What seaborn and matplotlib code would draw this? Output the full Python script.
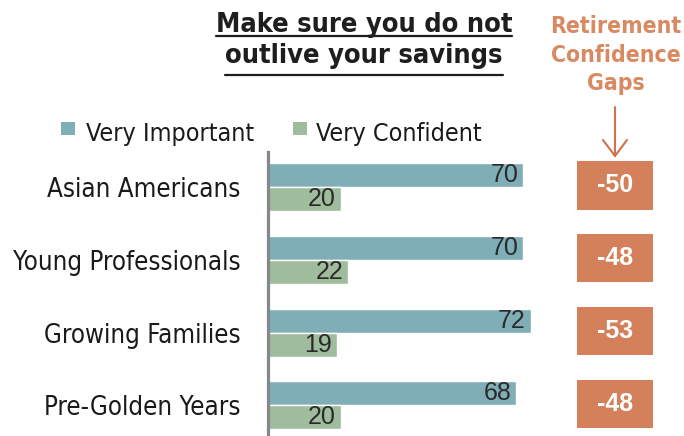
import matplotlib
matplotlib.use("Agg")
import matplotlib.pyplot as plt
from matplotlib.patches import Rectangle
from matplotlib.lines import Line2D
import seaborn as sns
import pandas as pd

# ---- data ----
segments = ["Asian Americans", "Young Professionals", "Growing Families", "Pre-Golden Years"]
very_important = [70, 70, 72, 68]
very_confident = [20, 22, 19, 20]
series_names = ["Very Important", "Very Confident"]
title_lines = ["Make sure you do not", "outlive your savings"]
gap_header = ["Retirement", "Confidence", "Gaps"]

gaps = [c - i for i, c in zip(very_important, very_confident)]

BLUE = "#80AEB6"
GREEN = "#9FBD9C"
ORANGE = "#D4805A"
ORANGE_TXT = "#D98A62"
COND = dict(family="DejaVu Sans", stretch="condensed")

sns.set_theme(style="white")
plt.rcParams["font.family"] = ["Liberation Sans", "DejaVu Sans"]

W, H = 684, 436
fig = plt.figure(figsize=(W / 100, H / 100), dpi=100)


def fx(px):
    return px / W


def fy(py):
    return 1 - py / H


# bar panel: left edge at x=268px, spans to the right edge; top at 152px
ax = fig.add_axes([fx(268), 0, fx(W - 268), (H - 152) / H])

df = pd.DataFrame({
    "segment": segments * 2,
    "series": [series_names[0]] * 4 + [series_names[1]] * 4,
    "value": very_important + very_confident,
})

sns.barplot(data=df, y="segment", x="value", hue="series", order=segments,
            hue_order=series_names, palette=[BLUE, GREEN], orient="h",
            width=0.66, edgecolor="white", linewidth=1.0, saturation=1,
            legend=False, ax=ax)

ax.set_xlim(0, 114)
ax.set_ylim(3.42, -0.48)
ax.set_xlabel("")
ax.set_ylabel("")
ax.set_xticks([])
ax.tick_params(axis="y", length=0, pad=20)
for lbl in ax.get_yticklabels():
    lbl.set_fontfamily("DejaVu Sans")
    lbl.set_fontstretch("condensed")
    lbl.set_fontsize(18.5)
    lbl.set_color("#1a1a1a")
for side in ["top", "right", "bottom"]:
    ax.spines[side].set_visible(False)
ax.spines["left"].set_color("#85878A")
ax.spines["left"].set_linewidth(2.3)

# value labels inside the bar ends
for bar in ax.patches:
    w = bar.get_width()
    yc = bar.get_y() + bar.get_height() / 2
    ax.annotate(f"{w:.0f}", xy=(w, yc), xytext=(-5, 0), textcoords="offset pixels",
                ha="right", va="center", fontsize=18, color="#2a2a2a")

# gap boxes
for k, g in enumerate(gaps):
    yc = k - 0.02
    ax.add_patch(Rectangle((84.7, yc - 0.33), 20.8, 0.66, facecolor=ORANGE,
                           edgecolor="none", clip_on=False))
    ax.text(95.1, yc, f"{g}", ha="center", va="center", fontsize=18,
            fontweight="bold", color="white")

# title with underline
fig.canvas.draw()
renderer = fig.canvas.get_renderer()
for line, base, ul in zip(title_lines, [32, 63], [36.5, 75.5]):
    t = fig.text(fx(364), fy(base), line, ha="center", va="baseline",
                 fontsize=19.5, fontweight="bold", color="#1e1e1e", **COND)
    bb = t.get_window_extent(renderer=renderer)
    fig.add_artist(Line2D([bb.x0 / W, bb.x1 / W], [fy(ul), fy(ul)],
                          transform=fig.transFigure, color="#1e1e1e", lw=1.6))

# gaps header and arrow
for line, base in zip(gap_header, [33, 62, 90]):
    fig.text(fx(616), fy(base), line, ha="center", va="baseline", fontsize=16.5,
             fontweight="bold", color=ORANGE_TXT, **COND)
arrow_kw = dict(transform=fig.transFigure, color="#D2704F", lw=1.5,
                solid_capstyle="round")
fig.add_artist(Line2D([fx(615), fx(615)], [fy(107), fy(156)], **arrow_kw))
fig.add_artist(Line2D([fx(603), fx(615), fx(627)], [fy(140), fy(156), fy(140)],
                      **arrow_kw))

# legend
for (sx, tx), name, col in zip([(61, 86), (293, 316)], series_names, [BLUE, GREEN]):
    fig.add_artist(Rectangle((fx(sx), fy(135)), 14 / W, 13 / H, facecolor=col,
                             edgecolor="none", transform=fig.transFigure))
    fig.text(fx(tx), fy(141), name, ha="left", va="baseline", fontsize=18,
             color="#1a1a1a", **COND)

fig.savefig("out.png", dpi=100)
